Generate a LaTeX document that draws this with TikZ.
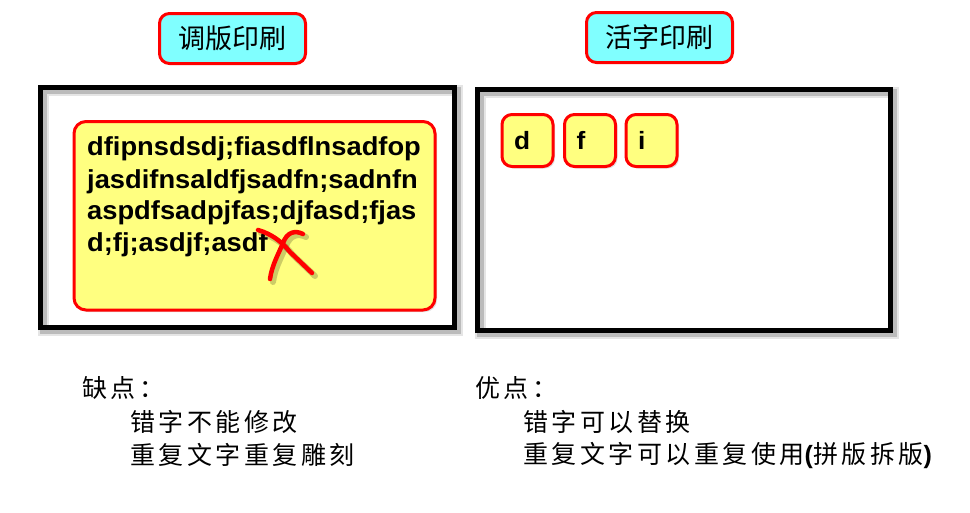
\documentclass[tikz,border=0pt]{standalone}
\usepackage{fontspec}
\setmainfont{Liberation Sans}
\newfontfamily\cjk{Noto Sans CJK SC}
\newfontfamily\cjkls[LetterSpace=14]{Noto Sans CJK SC}
\newfontfamily\bodyfont[FakeStretch=1.05]{Liberation Sans Bold}
\definecolor{tcyan}{HTML}{80FFFF}
\definecolor{tyellow}{HTML}{FFFF80}
\definecolor{tred}{HTML}{FF0000}
\tikzset{
  softshadow/.style={
    preaction={draw=black, draw opacity=0.10, line width=#1+6pt, transform canvas={shift={(3,3)}}},
    preaction={draw=black, draw opacity=0.18, line width=#1+2pt, transform canvas={shift={(3,3)}}}},
  frame/.style={draw=black, line width=5pt, inner sep=0pt, softshadow=5pt},
  titlebox/.style={draw=tred, line width=3pt, fill=tcyan, rounded corners=10pt, inner sep=0pt,
    font=\cjk\fontsize{27}{30}\selectfont},
  notebox/.style={draw=tred, line width=3pt, fill=tyellow, rounded corners=12pt, inner sep=0pt,
    preaction={fill=black, fill opacity=0.12, transform canvas={shift={(2,2)}}}},
  typebox/.style={draw=tred, line width=3pt, fill=tyellow, rounded corners=10pt,
    minimum height=52pt, inner xsep=12pt, inner ysep=0pt, text width=27pt, align=left,
    font=\bodyfont\fontsize{25}{26}\selectfont,
    preaction={fill=black, fill opacity=0.12, transform canvas={shift={(2,2)}}}},
  bodytext/.style={anchor=base west, inner sep=0pt, font=\bodyfont\fontsize{26}{28}\selectfont},
  cjktext/.style={anchor=west, inner sep=0pt, font=\cjkls\fontsize{25}{28}\selectfont},
  redstroke/.style={draw=tred, line width=4.5pt, line cap=round, line join=round},
  strokeshadow/.style={draw=black, draw opacity=0.2, line width=6pt, line cap=round}
}
\begin{document}
\begin{tikzpicture}[x=1pt,y=-1pt]
\useasboundingbox[fill=white] (0,0) rectangle (970,512);

% titles
\node[titlebox, minimum width=146pt, minimum height=50pt] (t1) at (232.5,38.5) {调版印刷};
\node[titlebox, minimum width=146pt, minimum height=50pt] (t2) at (659.5,37.5) {活字印刷};

% frames
\node[frame, minimum width=414pt, minimum height=240pt] (f1) at (247.5,207.5) {};
\node[frame, minimum width=413pt, minimum height=241pt] (f2) at (684,210) {};

% yellow plate
\node[notebox, minimum width=361pt, minimum height=188.5pt] (plate) at (254.5,215.75) {};
\node[bodytext] (l1) at (87,155) {dfipnsdsdj;fiasdflnsadfop};
\node[bodytext] (l2) at (87,188) {jasdifnsaldfjsadfn;sadnfn};
\node[bodytext] (l3) at (87,219) {aspdfsadpjfas;djfasd;fjas};
\node[bodytext] (l4) at (87,251) {d;fj;asdjf;asdf};

% red cross
\begin{scope}[shift={(3,3)}]
\draw[strokeshadow] (258,230) .. controls (272,234) and (282,242) .. (290,252) -- (312,273);
\draw[strokeshadow] (303,234) .. controls (295,230) and (287,232) .. (283,243) .. controls (278,255) and (272,265) .. (270,279);
\end{scope}
\draw[redstroke] (258,230) .. controls (272,234) and (282,242) .. (290,252) -- (312,273);
\draw[redstroke] (303,234) .. controls (295,230) and (287,232) .. (283,243) .. controls (278,255) and (272,265) .. (270,279);

% movable type
\node[typebox] (d) at (527.5,140.5) {d};
\node[typebox] (f) at (590,140.5) {f};
\node[typebox] (i) at (651.5,140.5) {i};

% notes
\node[cjktext] (c0) at (82,388) {缺点：};
\node[cjktext] (c1) at (130,422) {错字不能修改};
\node[cjktext] (c2) at (130,455) {重复文字重复雕刻};
\node[cjktext] (p0) at (475,388) {优点：};
\node[cjktext] (p1) at (523,422) {错字可以替换};
\node[cjktext] (p2) at (523,455) {重复文字可以重复使用{\normalfont\bfseries(}拼版拆版{\normalfont\bfseries)}};
\end{tikzpicture}
\end{document}
